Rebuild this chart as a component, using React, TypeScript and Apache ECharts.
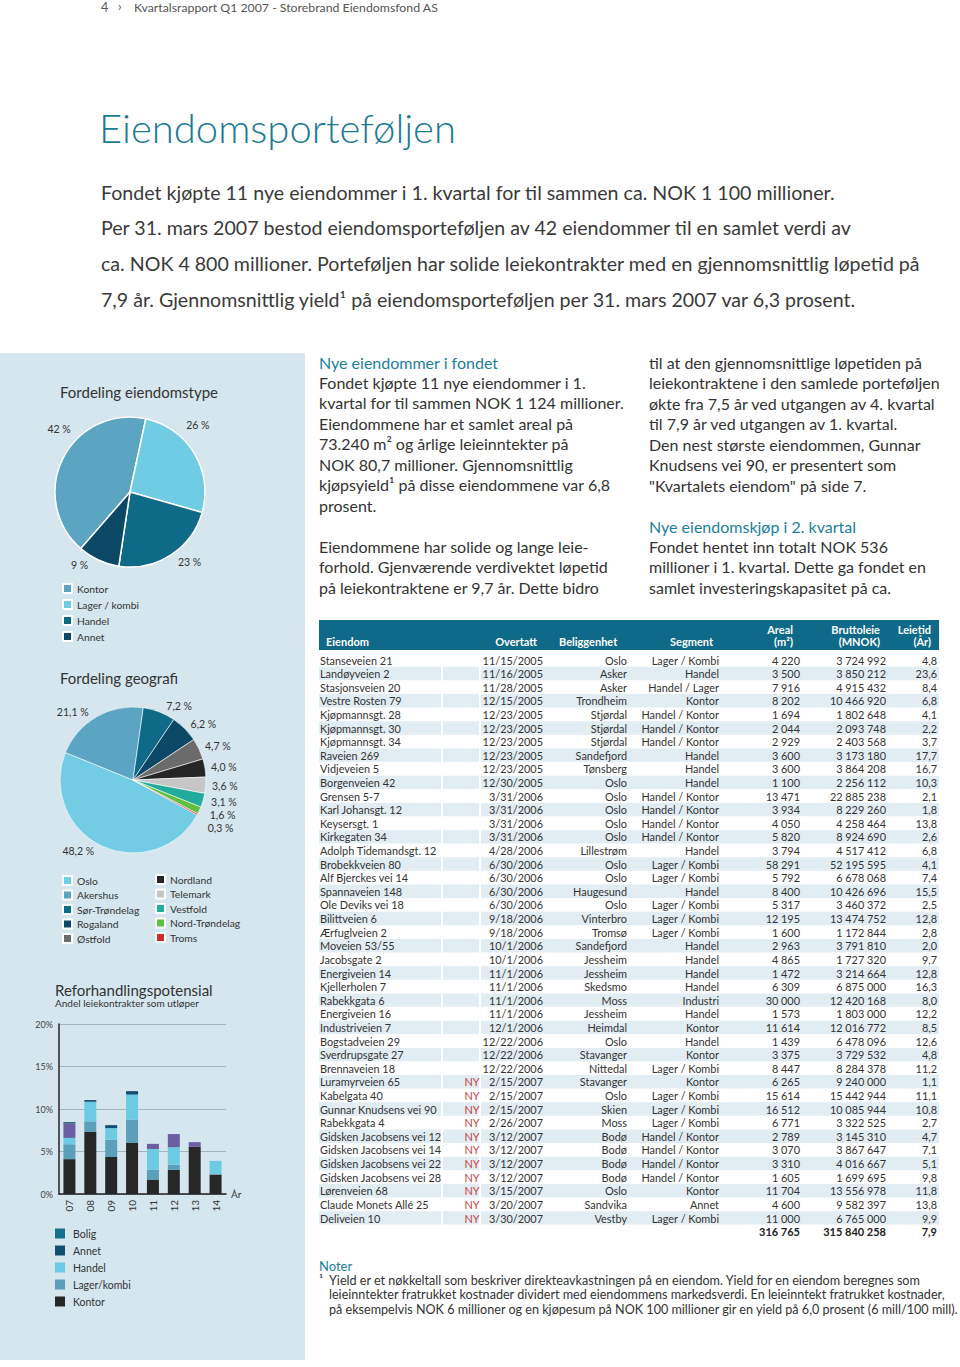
import React, { useEffect, useRef } from 'react';
import * as echarts from 'echarts';

const FONT = 'Lato, "Open Sans", sans-serif';

// ---------- chart data ----------
const typeNames = ['Kontor', 'Lager / kombi', 'Handel', 'Annet'];
const typeValues = [42, 26, 23, 9];
const typeColors = ['#5ba4c2', '#70cce4', '#0f6a88', '#0b4865'];
const typeLabelOffsets = [[20, -26], [-20, -24], [-2, 0], [-2, -2]];

const geoNames = ['Oslo', 'Akershus', 'Sør-Trøndelag', 'Rogaland', 'Østfold', 'Nordland', 'Telemark', 'Vestfold', 'Nord-Trøndelag', 'Troms'];
const geoValues = [48.2, 21.1, 7.2, 6.2, 4.7, 4.0, 3.6, 3.1, 1.6, 0.3];
const geoColors = ['#72cce4', '#5ba4c2', '#0f6a88', '#0b4865', '#6b6b6b', '#262626', '#c6c6c6', '#22aa9c', '#5fbf40', '#d12b2b'];

const years = ['07', '08', '09', '10', '11', '12', '13', '14'];
const yTicks = [0, 5, 10, 15, 20];
const kontorShare = [4.1, 7.3, 4.35, 6.0, 1.65, 2.85, 5.55, 2.3];
const lagerShare = [1.75, 1.25, 2.05, 2.75, 1.2, 0.6, 0, 0];
const handelShare = [0.75, 2.3, 1.35, 2.95, 2.45, 2.05, 0, 1.6];
const boligShare = [1.7, 0, 0, 0, 0.6, 1.55, 0.55, 0];
const annetShare = [0.15, 0.2, 0.35, 0.4, 0, 0, 0, 0];

// ---------- table data ----------
const propNames = ['Stanseveien 21', 'Landøyveien 2', 'Stasjonsveien 20', 'Vestre Rosten 79', 'Kjøpmannsgt. 28', 'Kjøpmannsgt. 30', 'Kjøpmannsgt. 34', 'Raveien 269', 'Vidjeveien 5', 'Borgenveien 42', 'Grensen 5-7', 'Karl Johansgt. 12', 'Keysersgt. 1', 'Kirkegaten 34', 'Adolph Tidemandsgt. 12', 'Brobekkveien 80', 'Alf Bjerckes vei 14', 'Spannaveien 148', 'Ole Deviks vei 18', 'Bilittveien 6', 'Ærfuglveien 2', 'Moveien 53/55', 'Jacobsgate 2', 'Energiveien 14', 'Kjellerholen 7', 'Rabekkgata 6', 'Energiveien 16', 'Industriveien 7', 'Bogstadveien 29', 'Sverdrupsgate 27', 'Brennaveien 18', 'Luramyrveien 65', 'Kabelgata 40', 'Gunnar Knudsens vei 90', 'Rabekkgata 4', 'Gidsken Jacobsens vei 12', 'Gidsken Jacobsens vei 14', 'Gidsken Jacobsens vei 22', 'Gidsken Jacobsens vei 28', 'Lørenveien 68', 'Claude Monets Allé 25', 'Deliveien 10'];
const propNew = [0, 0, 0, 0, 0, 0, 0, 0, 0, 0, 0, 0, 0, 0, 0, 0, 0, 0, 0, 0, 0, 0, 0, 0, 0, 0, 0, 0, 0, 0, 0, 1, 1, 1, 1, 1, 1, 1, 1, 1, 1, 1];
const propDates = ['11/15/2005', '11/16/2005', '11/28/2005', '12/15/2005', '12/23/2005', '12/23/2005', '12/23/2005', '12/23/2005', '12/23/2005', '12/30/2005', '3/31/2006', '3/31/2006', '3/31/2006', '3/31/2006', '4/28/2006', '6/30/2006', '6/30/2006', '6/30/2006', '6/30/2006', '9/18/2006', '9/18/2006', '10/1/2006', '10/1/2006', '11/1/2006', '11/1/2006', '11/1/2006', '11/1/2006', '12/1/2006', '12/22/2006', '12/22/2006', '12/22/2006', '2/15/2007', '2/15/2007', '2/15/2007', '2/26/2007', '3/12/2007', '3/12/2007', '3/12/2007', '3/12/2007', '3/15/2007', '3/20/2007', '3/30/2007'];
const propPlaces = ['Oslo', 'Asker', 'Asker', 'Trondheim', 'Stjørdal', 'Stjørdal', 'Stjørdal', 'Sandefjord', 'Tønsberg', 'Oslo', 'Oslo', 'Oslo', 'Oslo', 'Oslo', 'Lillestrøm', 'Oslo', 'Oslo', 'Haugesund', 'Oslo', 'Vinterbro', 'Tromsø', 'Sandefjord', 'Jessheim', 'Jessheim', 'Skedsmo', 'Moss', 'Jessheim', 'Heimdal', 'Oslo', 'Stavanger', 'Nittedal', 'Stavanger', 'Oslo', 'Skien', 'Moss', 'Bodø', 'Bodø', 'Bodø', 'Bodø', 'Oslo', 'Sandvika', 'Vestby'];
const propSegments = ['Lager / Kombi', 'Handel', 'Handel / Lager', 'Kontor', 'Handel / Kontor', 'Handel / Kontor', 'Handel / Kontor', 'Handel', 'Handel', 'Handel', 'Handel / Kontor', 'Handel / Kontor', 'Handel / Kontor', 'Handel / Kontor', 'Handel', 'Lager / Kombi', 'Lager / Kombi', 'Handel', 'Lager / Kombi', 'Lager / Kombi', 'Lager / Kombi', 'Handel', 'Handel', 'Handel', 'Handel', 'Industri', 'Handel', 'Kontor', 'Handel', 'Kontor', 'Lager / Kombi', 'Kontor', 'Lager / Kombi', 'Lager / Kombi', 'Lager / Kombi', 'Handel / Kontor', 'Handel / Kontor', 'Handel / Kontor', 'Handel / Kontor', 'Kontor', 'Annet', 'Lager / Kombi'];
const propArea = [4220, 3500, 7916, 8202, 1694, 2044, 2929, 3600, 3600, 1100, 13471, 3934, 4050, 5820, 3794, 58291, 5792, 8400, 5317, 12195, 1600, 2963, 4865, 1472, 6309, 30000, 1573, 11614, 1439, 3375, 8447, 6265, 15614, 16512, 6771, 2789, 3070, 3310, 1605, 11704, 4600, 11000];
const propRent = [3724992, 3850212, 4915432, 10466920, 1802648, 2093748, 2403568, 3173180, 3864208, 2256112, 22885238, 8229260, 4258464, 8924690, 4517412, 52195595, 6678068, 10426696, 3460372, 13474752, 1172844, 3791810, 1727320, 3214664, 6875000, 12420168, 1803000, 12016772, 6478096, 3729532, 8284378, 9240000, 15442944, 10085944, 3322525, 3145310, 3867647, 4016667, 1699695, 13556978, 9582397, 6765000];
const propLease = [4.8, 23.6, 8.4, 6.8, 4.1, 2.2, 3.7, 17.7, 16.7, 10.3, 2.1, 1.8, 13.8, 2.6, 6.8, 4.1, 7.4, 15.5, 2.5, 12.8, 2.8, 2.0, 9.7, 12.8, 16.3, 8.0, 12.2, 8.5, 12.6, 4.8, 11.2, 1.1, 11.1, 10.8, 2.7, 4.7, 7.1, 5.1, 9.8, 11.8, 13.8, 9.9];
const totals = [316765, 315840258, 7.9];

// ---------- texts ----------
const introLines = [
  'Fondet kjøpte 11 nye eiendommer i 1. kvartal for til sammen ca. NOK 1 100 millioner.',
  'Per 31. mars 2007 bestod eiendomsporteføljen av 42 eiendommer til en samlet verdi av',
  'ca. NOK 4 800 millioner. Porteføljen har solide leiekontrakter med en gjennomsnittlig løpetid på',
  '7,9 år. Gjennomsnittlig yield¹ på eiendomsporteføljen per 31. mars 2007 var 6,3 prosent.',
];
const col1Lines = [
  'Fondet kjøpte 11 nye eiendommer i 1.',
  'kvartal for til sammen NOK 1 124 millioner.',
  'Eiendommene har et samlet areal på',
  '73.240 m² og årlige leieinntekter på',
  'NOK 80,7 millioner. Gjennomsnittlig',
  'kjøpsyield¹ på disse eiendommene var 6,8',
  'prosent.',
  '',
  'Eiendommene har solide og lange leie-',
  'forhold. Gjenværende verdivektet løpetid',
  'på leiekontraktene er 9,7 år. Dette bidro',
];
const col2Lines = [
  'til at den gjennomsnittlige løpetiden på',
  'leiekontraktene i den samlede porteføljen',
  'økte fra 7,5 år ved utgangen av 4. kvartal',
  'til 7,9 år ved utgangen av 1. kvartal.',
  'Den nest største eiendommen, Gunnar',
  'Knudsens vei 90, er presentert som',
  '"Kvartalets eiendom" på side 7.',
];
const col2bLines = [
  'Fondet hentet inn totalt NOK 536',
  'millioner i 1. kvartal. Dette ga fondet en',
  'samlet investeringskapasitet på ca.',
];
const noteLines = [
  'Yield er et nøkkeltall som beskriver direkteavkastningen på en eiendom. Yield for en eiendom beregnes som',
  'leieinntekter fratrukket kostnader dividert med eiendommens markedsverdi. En leieinntekt fratrukket kostnader,',
  'på eksempelvis NOK 6 millioner og en kjøpesum på NOK 100 millioner gir en yield på 6,0 prosent (6 mill/100 mill).',
];

const TEAL = '#1b7f9c';
const INK = '#333333';

function fmtInt(n: number) {
  return String(n).replace(/\B(?=(\d{3})+(?!\d))/g, ' ');
}
function fmtDec(n: number) {
  return n.toFixed(1).replace('.', ',');
}

function txt(text: string, x: number, y: number, size: number, fill = INK, align = 'left', weight: any = 'normal') {
  return {
    type: 'text',
    silent: true,
    z: 10,
    style: {
      text,
      x,
      y,
      fill,
      font: `${weight} ${size}px ${FONT}`,
      textAlign: align,
      textVerticalAlign: 'middle',
    },
  };
}
function box(x: number, y: number, w: number, h: number, fill: string, z = 1) {
  return { type: 'rect', silent: true, z, shape: { x, y, width: w, height: h }, style: { fill } };
}

function buildGraphic() {
  const g: any[] = [];
  // page header + title + intro
  g.push(txt('4', 101, 7, 12.5, '#555'));
  g.push(txt('›', 118, 6, 12.5, '#555'));
  g.push(txt('Kvartalsrapport Q1 2007 - Storebrand Eiendomsfond AS', 134, 7, 12.3, '#555'));
  g.push(txt('Eiendomsporteføljen', 99, 128, 40, '#1a7a96', 'left', 300));
  introLines.forEach((l, i) => g.push(txt(l, 101, 192 + i * 35.8, 19.6, '#3a3a3a')));

  // sidebar
  g.push(box(0, 353, 305, 1007, '#d6e6ee', 0));
  g.push(txt('Fordeling eiendomstype', 60, 392, 15, INK));
  g.push(txt('Fordeling geografi', 60, 678, 15, INK));
  g.push(txt('Reforhandlingspotensial', 55, 990, 15, INK));
  g.push(txt('Andel leiekontrakter som utløper', 55, 1003, 10, INK));

  // text columns
  const LH = 20.5;
  const FS = 16;
  g.push(txt('Nye eiendommer i fondet', 319, 362, FS, TEAL));
  col1Lines.forEach((l, i) => { if (l) g.push(txt(l, 319, 382 + i * LH, FS, INK)); });
  col2Lines.forEach((l, i) => g.push(txt(l, 649, 362 + i * LH, FS, INK)));
  g.push(txt('Nye eiendomskjøp i 2. kvartal', 649, 526, FS, TEAL));
  col2bLines.forEach((l, i) => g.push(txt(l, 649, 546 + i * LH, FS, INK)));

  // table header
  g.push(box(319, 620, 620, 30, '#0e6a88', 2));
  const HW = '#ffffff';
  g.push(txt('Eiendom', 326, 641, 11, HW, 'left', 'bold'));
  g.push(txt('Overtatt', 537, 641, 11, HW, 'right', 'bold'));
  g.push(txt('Beliggenhet', 559, 641, 11, HW, 'left', 'bold'));
  g.push(txt('Segment', 713, 641, 11, HW, 'right', 'bold'));
  g.push(txt('Areal', 793, 629, 11, HW, 'right', 'bold'));
  g.push(txt('(m²)', 793, 641, 11, HW, 'right', 'bold'));
  g.push(txt('Bruttoleie', 880, 629, 11, HW, 'right', 'bold'));
  g.push(txt('(MNOK)', 880, 641, 11, HW, 'right', 'bold'));
  g.push(txt('Leietid', 931, 629, 11, HW, 'right', 'bold'));
  g.push(txt('(År)', 931, 641, 11, HW, 'right', 'bold'));

  // table rows
  const RH = 13.61;
  const TS = 10.9;
  propNames.forEach((name, i) => {
    const y = 660 + i * RH;
    if (i % 2 === 1) {
      g.push(box(319, y - 6.8, 122, 13.4, '#e2edf3'));
      g.push(box(443, y - 6.8, 36, 13.4, '#e2edf3'));
      g.push(box(481, y - 6.8, 458, 13.4, '#e2edf3'));
    }
    g.push(txt(name, 320, y, TS, INK));
    if (propNew[i]) g.push(txt('NY', 472, y, TS, '#cc3b3b', 'center'));
    g.push(txt(propDates[i], 543, y, TS, INK, 'right'));
    g.push(txt(propPlaces[i], 627, y, TS, INK, 'right'));
    g.push(txt(propSegments[i], 719, y, TS, INK, 'right'));
    g.push(txt(fmtInt(propArea[i]), 800, y, TS, INK, 'right'));
    g.push(txt(fmtInt(propRent[i]), 886, y, TS, INK, 'right'));
    g.push(txt(fmtDec(propLease[i]), 937, y, TS, INK, 'right'));
  });
  const ty = 660 + propNames.length * RH;
  g.push(txt(fmtInt(totals[0]), 800, ty, 11, '#222', 'right', 'bold'));
  g.push(txt(fmtInt(totals[1]), 886, ty, 11, '#222', 'right', 'bold'));
  g.push(txt(fmtDec(totals[2]), 937, ty, 11, '#222', 'right', 'bold'));

  // notes
  g.push(txt('Noter', 319, 1266, 13, TEAL));
  g.push(txt('¹', 319, 1279, 12.5, INK));
  noteLines.forEach((l, i) => g.push(txt(l, 329, 1280 + i * 14.5, 12.6, INK)));
  return g;
}

function buildOption() {
  const legendText = { fontSize: 10.3, color: INK, fontFamily: FONT, lineHeight: 10 };
  return {
    animation: false,
    textStyle: { fontFamily: FONT },
    graphic: { elements: buildGraphic() },
    legend: [
      {
        data: typeNames.map((n) => 'et:' + n),
        formatter: (n: string) => n.slice(3),
        orient: 'vertical', left: 62, top: 583, icon: 'rect', itemWidth: 9, itemHeight: 9, itemGap: 5,
        selectedMode: false, textStyle: legendText, padding: 0,
      },
      {
        data: geoNames.slice(0, 5),
        orient: 'vertical', left: 62, top: 875, icon: 'rect', itemWidth: 9, itemHeight: 9, itemGap: 3.5,
        selectedMode: false, textStyle: legendText, padding: 0,
      },
      {
        data: geoNames.slice(5),
        orient: 'vertical', left: 155, top: 874, icon: 'rect', itemWidth: 9, itemHeight: 9, itemGap: 3.5,
        selectedMode: false, textStyle: legendText, padding: 0,
      },
      {
        data: [
          { name: 'Bolig', itemStyle: { color: '#17708e' } },
          { name: 'Annet' },
          { name: 'Handel' },
          { name: 'Lager/kombi' },
          { name: 'Kontor' },
        ],
        orient: 'vertical', left: 55, top: 1228, icon: 'rect', itemWidth: 10, itemHeight: 10, itemGap: 6,
        selectedMode: false, textStyle: { ...legendText, fontSize: 10.5, padding: [0, 0, 0, 3] }, padding: 0,
      },
    ],
    grid: { left: 59, top: 1024, width: 167, height: 170 },
    xAxis: {
      type: 'category',
      data: years,
      name: 'År',
      nameGap: 5,
      nameTextStyle: { fontSize: 10, color: INK, fontFamily: FONT },
      axisLine: { lineStyle: { color: '#222', width: 1.5 } },
      axisTick: { show: false },
      axisLabel: { rotate: 90, fontSize: 10, color: INK, margin: 6, fontFamily: FONT },
    },
    yAxis: {
      type: 'value',
      min: yTicks[0],
      max: yTicks[yTicks.length - 1],
      interval: 5,
      axisLine: { show: true, lineStyle: { color: '#222', width: 1.5 } },
      axisTick: { show: false },
      axisLabel: { formatter: '{value}%', fontSize: 9, color: '#444', margin: 6, fontFamily: FONT },
      splitLine: { lineStyle: { color: '#a3b6bf', width: 1 } },
    },
    series: [
      {
        type: 'pie',
        center: [130, 492],
        radius: 75,
        startAngle: -131,
        clockwise: true,
        data: typeNames.map((n, i) => ({
          name: 'et:' + n,
          value: typeValues[i],
          itemStyle: { color: typeColors[i] },
          label: { offset: typeLabelOffsets[i] },
        })),
        itemStyle: { borderColor: '#ffffff', borderWidth: 1.5 },
        label: { show: true, position: 'outside', formatter: (p: any) => `${p.value} %`, fontSize: 10.5, color: INK, fontFamily: FONT },
        labelLine: { show: false, length: 8, length2: 0 },
        emphasis: { disabled: true },
        silent: true,
      },
      {
        type: 'pie',
        center: [133, 780],
        radius: 73,
        startAngle: -28.6,
        clockwise: true,
        data: geoNames.map((n, i) => ({ name: n, value: geoValues[i], itemStyle: { color: geoColors[i] } })),
        itemStyle: { borderColor: '#ffffff', borderWidth: 0.6 },
        label: { show: true, position: 'outside', formatter: (p: any) => `${fmtDec(p.value)} %`, fontSize: 10.5, color: INK, fontFamily: FONT },
        labelLine: { show: false, length: 6, length2: 0 },
        emphasis: { disabled: true },
        silent: true,
      },
      { name: 'Kontor', type: 'bar', stack: 'a', barWidth: 12, data: kontorShare, itemStyle: { color: '#272727' }, silent: true },
      { name: 'Lager/kombi', type: 'bar', stack: 'a', barWidth: 12, data: lagerShare, itemStyle: { color: '#5b9fba' }, silent: true },
      { name: 'Handel', type: 'bar', stack: 'a', barWidth: 12, data: handelShare, itemStyle: { color: '#6ccbe2' }, silent: true },
      { name: 'Bolig', type: 'bar', stack: 'a', barWidth: 12, data: boligShare, itemStyle: { color: '#6b5ea3' }, silent: true },
      { name: 'Annet', type: 'bar', stack: 'a', barWidth: 12, data: annetShare, itemStyle: { color: '#124e6d' }, silent: true },
    ],
  };
}

export default function App() {
  const ref = useRef<HTMLDivElement>(null);
  useEffect(() => {
    const chart = echarts.init(ref.current!, null, { renderer: 'svg' });
    chart.setOption(buildOption() as any);
    return () => chart.dispose();
  }, []);
  return (
    <div
      ref={ref}
      style={{ position: 'absolute', left: 0, top: 0, width: 960, height: 1367, background: '#ffffff' }}
    />
  );
}
